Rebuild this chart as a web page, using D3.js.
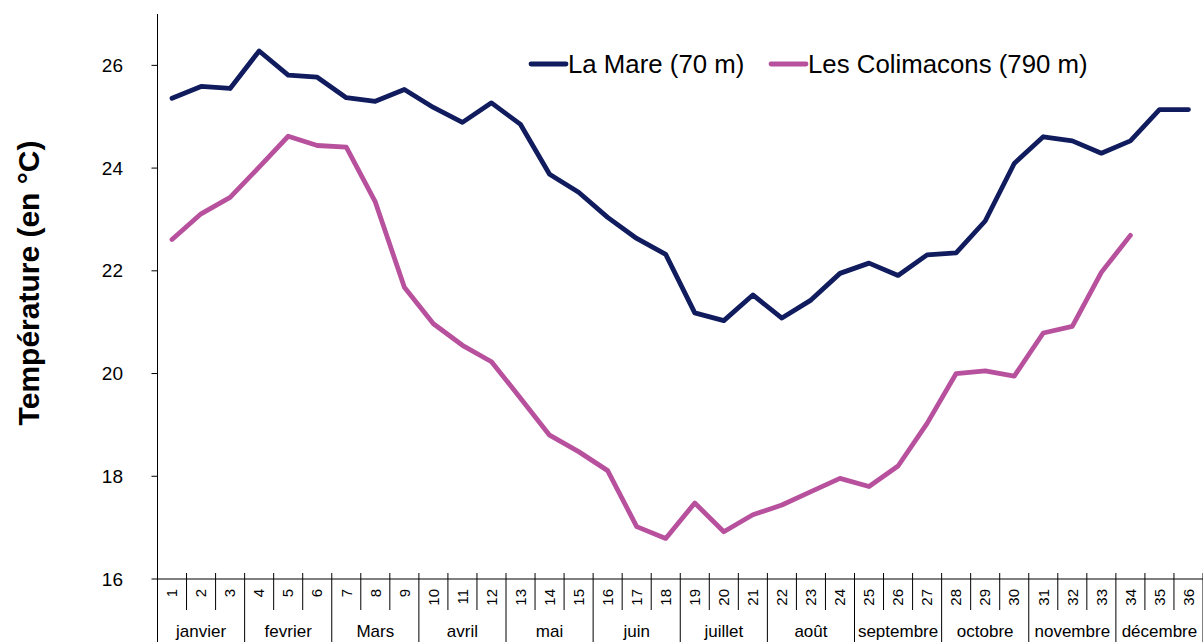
<html>
<head>
<meta charset="utf-8">
<script src="https://d3js.org/d3.v7.min.js"></script>
<style>
	body { margin: 0; background: #fff; }
	text { font-family: "Liberation Sans", Arial, sans-serif; fill: #000; }
</style>
</head>
<body>
<div id="chart"></div>
<script>
// semaines (decades) 1..36
var weeks = d3.range(1, 37).map(String)
var months = ["janvier", "fevrier", "Mars", "avril", "mai", "juin", "juillet", "août", "septembre", "octobre", "novembre", "décembre"]
var yTicks = [16, 18, 20, 22, 24, 26]

var laMare = [25.36, 25.59, 25.55, 26.28, 25.81, 25.77, 25.37, 25.30, 25.53, 25.18, 24.89, 25.27,
	24.85, 23.88, 23.53, 23.04, 22.63, 22.32, 21.18, 21.03, 21.53, 21.08, 21.43, 21.95,
	22.15, 21.91, 22.31, 22.35, 22.97, 24.09, 24.61, 24.53, 24.29, 24.53, 25.14, 25.14]

var colimacons = [22.61, 23.11, 23.43, 24.02, 24.62, 24.44, 24.41, 23.34, 21.68, 20.97, 20.55, 20.23,
	19.52, 18.80, 18.48, 18.11, 17.02, 16.79, 17.48, 16.92, 17.25, 17.44, 17.70, 17.96,
	17.80, 18.20, 19.03, 20.00, 20.05, 19.95, 20.79, 20.92, 21.97, 22.69]

var seriesNames = ["La Mare (70 m)", "Les Colimacons (790 m)"]
var seriesColors = ["#101c5e", "#b8519d"]

var W = 1203, H = 642
var plotLeft = 157.5, plotRight = 1203, plotTop = 14, axisY = 579

var svg = d3.select("#chart").append("svg")
	.attr("width", W)
	.attr("height", H)

var x = d3.scaleBand().domain(weeks).range([plotLeft, plotRight]).padding(0)
var y = d3.scaleLinear().domain([16, 27]).range([axisY, plotTop])
var bw = x.bandwidth()

// y axis
svg.append("line")
	.attr("x1", plotLeft).attr("x2", plotLeft)
	.attr("y1", plotTop).attr("y2", H)
	.style("stroke", "#000")

svg.selectAll(".ytick")
	.data(yTicks)
	.enter()
	.append("line")
	.attr("x1", plotLeft - 6).attr("x2", plotLeft)
	.attr("y1", function(d){ return y(d) })
	.attr("y2", function(d){ return y(d) })
	.style("stroke", "#000")

svg.selectAll(".ylab")
	.data(yTicks)
	.enter()
	.append("text")
	.attr("x", 123)
	.attr("y", function(d){ return y(d) })
	.attr("dy", "0.35em")
	.attr("text-anchor", "end")
	.style("font-size", "19px")
	.text(function(d){ return d })

svg.append("text")
	.attr("transform", "translate(28," + 283 + ") rotate(-90)")
	.attr("text-anchor", "middle")
	.attr("dy", "0.35em")
	.style("font-size", "30px")
	.style("font-weight", "bold")
	.text("Température (en °C)")

// x axis
svg.append("line")
	.attr("x1", plotLeft).attr("x2", plotRight)
	.attr("y1", axisY).attr("y2", axisY)
	.style("stroke", "#000")

// separators between bands (longer ones between months)
svg.selectAll(".xsep")
	.data(d3.range(1, 37))
	.enter()
	.append("line")
	.attr("x1", function(i){ return plotLeft + i * bw })
	.attr("x2", function(i){ return plotLeft + i * bw })
	.attr("y1", axisY - 6)
	.attr("y2", function(i){ return i % 3 == 0 ? H : 610 })
	.style("stroke", "#000")

svg.selectAll(".xlab")
	.data(weeks)
	.enter()
	.append("text")
	.attr("transform", function(d){ return "translate(" + (x(d) + bw / 2) + ",589) rotate(-90)" })
	.attr("text-anchor", "end")
	.attr("dy", "0.35em")
	.style("font-size", "15px")
	.text(function(d){ return d })

svg.selectAll(".mlab")
	.data(months)
	.enter()
	.append("text")
	.attr("x", function(d, i){ return x(weeks[i * 3]) + bw * 1.5 })
	.attr("y", 637)
	.attr("text-anchor", "middle")
	.style("font-size", "17px")
	.text(function(d){ return d })

// lines
var line = d3.line()
	.x(function(d, i){ return x(weeks[i]) + bw / 2 })
	.y(function(d){ return y(d) })

;[laMare, colimacons].forEach(function(vals, k){
	svg.append("path")
		.datum(vals)
		.attr("d", line)
		.style("fill", "none")
		.style("stroke", seriesColors[k])
		.style("stroke-width", 4.8)
		.style("stroke-linejoin", "round")
		.style("stroke-linecap", "round")
})

// legend
var legX = [531, 771]
seriesNames.forEach(function(name, k){
	svg.append("line")
		.attr("x1", legX[k]).attr("x2", legX[k] + 35)
		.attr("y1", 64).attr("y2", 64)
		.style("stroke", seriesColors[k])
		.style("stroke-width", 4.8)
		.style("stroke-linecap", "round")
	svg.append("text")
		.attr("x", legX[k] + 37)
		.attr("y", 64)
		.attr("dy", "0.35em")
		.style("font-size", "25.8px")
		.text(name)
})
</script>
</body>
</html>
